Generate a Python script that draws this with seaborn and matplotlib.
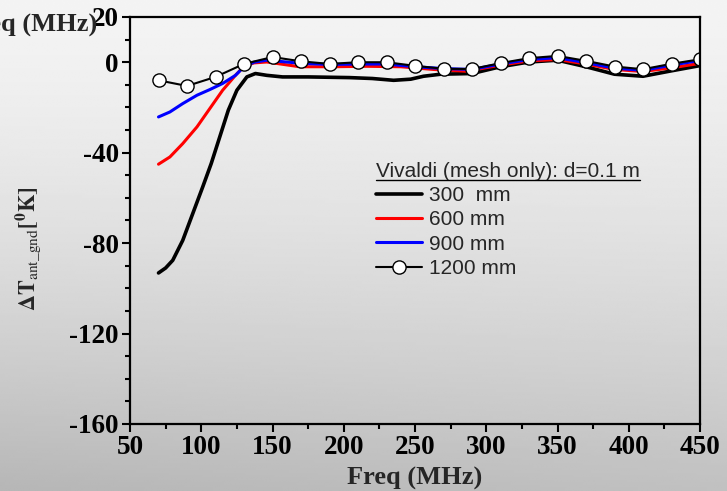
import numpy as np
import pandas as pd
import matplotlib
matplotlib.use("Agg")
import matplotlib.pyplot as plt
from matplotlib.lines import Line2D
from matplotlib.ticker import MultipleLocator
import seaborn as sns

# ---------------- data ----------------
freq300 = [70, 75, 80, 87, 94, 101, 107, 113, 119, 125, 132, 138, 146, 157, 175, 204,
           220, 235, 247, 256, 268, 290, 310, 330, 350, 370, 390, 410, 430, 450]
t300 = [-93.2, -91.0, -87.6, -78.8, -67.0, -55.2, -44.8, -33.0, -21.2, -12.4, -6.5, -5.0,
        -5.8, -6.5, -6.5, -6.8, -7.2, -8.0, -7.5, -6.2, -5.3, -5.0, -2.0, 0.1, 0.9,
        -2.0, -5.3, -6.2, -3.8, -1.5]

freq600 = [70, 78, 87, 97, 106, 115, 124, 130, 137, 146, 169, 192, 216, 240, 263,
           286, 310, 330, 350, 370, 390, 410, 430, 450]
t600 = [-45.1, -41.9, -36.0, -28.6, -20.5, -12.4, -5.8, -1.8, -0.3, 0.1, -2.0, -2.0,
        -1.8, -2.0, -3.2, -4.0, -1.3, 0.6, 1.2, -0.8, -3.2, -4.1, -2.5, -0.5]

freq900 = [70, 78, 87, 97, 106, 115, 124, 130, 137, 146, 170, 190, 210, 230, 250,
           270, 290, 310, 330, 350, 370, 390, 410, 430, 450]
t900 = [-24.2, -22.0, -18.3, -14.6, -12.1, -9.4, -5.8, -2.0, 0.0, 0.9, -0.5, -1.0,
        -0.8, -0.8, -2.0, -2.8, -3.2, -0.8, 1.2, 2.0, -0.2, -2.6, -3.6, -1.3, 0.8]

freq1200 = [70, 90, 110, 130, 150, 170, 190, 210, 230, 250, 270, 290, 310, 330,
            350, 370, 390, 410, 430, 450]
t1200 = [-8.0, -10.5, -6.5, -0.75, 2.3, 0.4, -0.75, 0.0, 0.0, -1.6, -2.9, -3.0,
         -0.4, 1.8, 2.8, 0.6, -1.9, -3.1, -0.7, 1.3]

labels = ["300  mm", "600 mm", "900 mm", "1200 mm"]
legend_title = "Vivaldi (mesh only): d=0.1 m"
xticks = [50, 100, 150, 200, 250, 300, 350, 400, 450]
yticks = [-160, -120, -80, -40, 0, 20]

# ---------------- style ----------------
sns.set_style("ticks")
plt.rcParams["font.family"] = ["Liberation Serif", "DejaVu Serif"]
plt.rcParams["mathtext.fontset"] = "stix"
plt.rcParams["axes.unicode_minus"] = False

W, H = 727, 491
fig = plt.figure(figsize=(W / 100, H / 100), dpi=100)

# background gradient (light at top, grey at bottom)
bg = fig.add_axes([0, 0, 1, 1], zorder=-10)
yy, xx = np.mgrid[0:1:200j, 0:1:200j]
grad = 0.955 - 0.20 * yy ** 1.4 - 0.04 * (1 - xx) * yy ** 2
bg.imshow(grad, cmap="gray", vmin=0, vmax=1, aspect="auto",
          extent=[0, 1, 0, 1], origin="upper", interpolation="bilinear")
bg.axis("off")

L, R, T, B = 130, 700, 17, 424
ax = fig.add_axes([L / W, 1 - B / H, (R - L) / W, (B - T) / H])
ax.set_facecolor("none")

sns.lineplot(x=freq300, y=t300, ax=ax, color="black", lw=2.6, sort=False,
             estimator=None, label=labels[0])
sns.lineplot(x=freq600, y=t600, ax=ax, color="#ff0000", lw=2.2, sort=False,
             estimator=None, label=labels[1])
sns.lineplot(x=freq900, y=t900, ax=ax, color="#0000ff", lw=2.2, sort=False,
             estimator=None, label=labels[2])
sns.lineplot(x=freq1200, y=t1200, ax=ax, color="black", lw=1.5, sort=False,
             estimator=None, marker="o", markersize=9.5, markerfacecolor="white",
             markeredgecolor="black", markeredgewidth=1.0, label=labels[3])

ax.set_xlim(50, 450)
ax.set_ylim(-160, 20)
ax.set_xticks(xticks)
ax.set_yticks(yticks)
ax.xaxis.set_minor_locator(MultipleLocator(25))
ax.yaxis.set_minor_locator(MultipleLocator(10))
ax.tick_params(which="both", direction="out", width=1.5, top=False, right=False,
               colors="black")
ax.tick_params(which="major", length=6, pad=2)
ax.tick_params(which="minor", length=3.5)
for lab in ax.get_xticklabels() + ax.get_yticklabels():
    lab.set_fontsize(19.5)
    lab.set_fontweight("bold")
    lab.set_family(["Liberation Serif"])
for s in ax.spines.values():
    s.set_visible(True)
    s.set_linewidth(1.6)
    s.set_color("black")

ax.set_xlabel("Freq (MHz)", fontsize=19, fontweight="bold")
ax.xaxis.set_label_coords(0.5, -0.105)
ax.set_ylabel(r"$\mathbf{\Delta T}_{\mathrm{ant\_gnd}}\mathbf{[^{0}K]}$", fontsize=16)
ax.yaxis.set_label_coords(-0.152, 0.43)

# clipped duplicate label at top left of the reference
fig.text(97 / W, 1 - 25 / H, "Freq (MHz)", ha="right", va="center",
         fontsize=19, fontweight="bold")

leg = ax.legend(title=legend_title, loc="upper left",
                bbox_to_anchor=((376 - L) / (R - L), (B - 162) / (B - T)),
                frameon=False, alignment="left",
                prop={"family": ["Liberation Sans"], "size": 15},
                title_fontproperties={"family": ["Liberation Sans"], "size": 15},
                handlelength=2.2, handletextpad=0.35, labelspacing=0.25,
                borderpad=0.0, borderaxespad=0.0, numpoints=1)

fig.canvas.draw()
bb = leg.get_title().get_window_extent(fig.canvas.get_renderer())
inv = fig.transFigure.inverted()
(x0, y0), (x1, _) = inv.transform([(bb.x0, bb.y0 + 1), (bb.x1, bb.y0 + 1)])
fig.add_artist(Line2D([x0, x1], [y0, y0], transform=fig.transFigure,
                      color="black", lw=1.0))

fig.savefig("out.png", dpi=100)
